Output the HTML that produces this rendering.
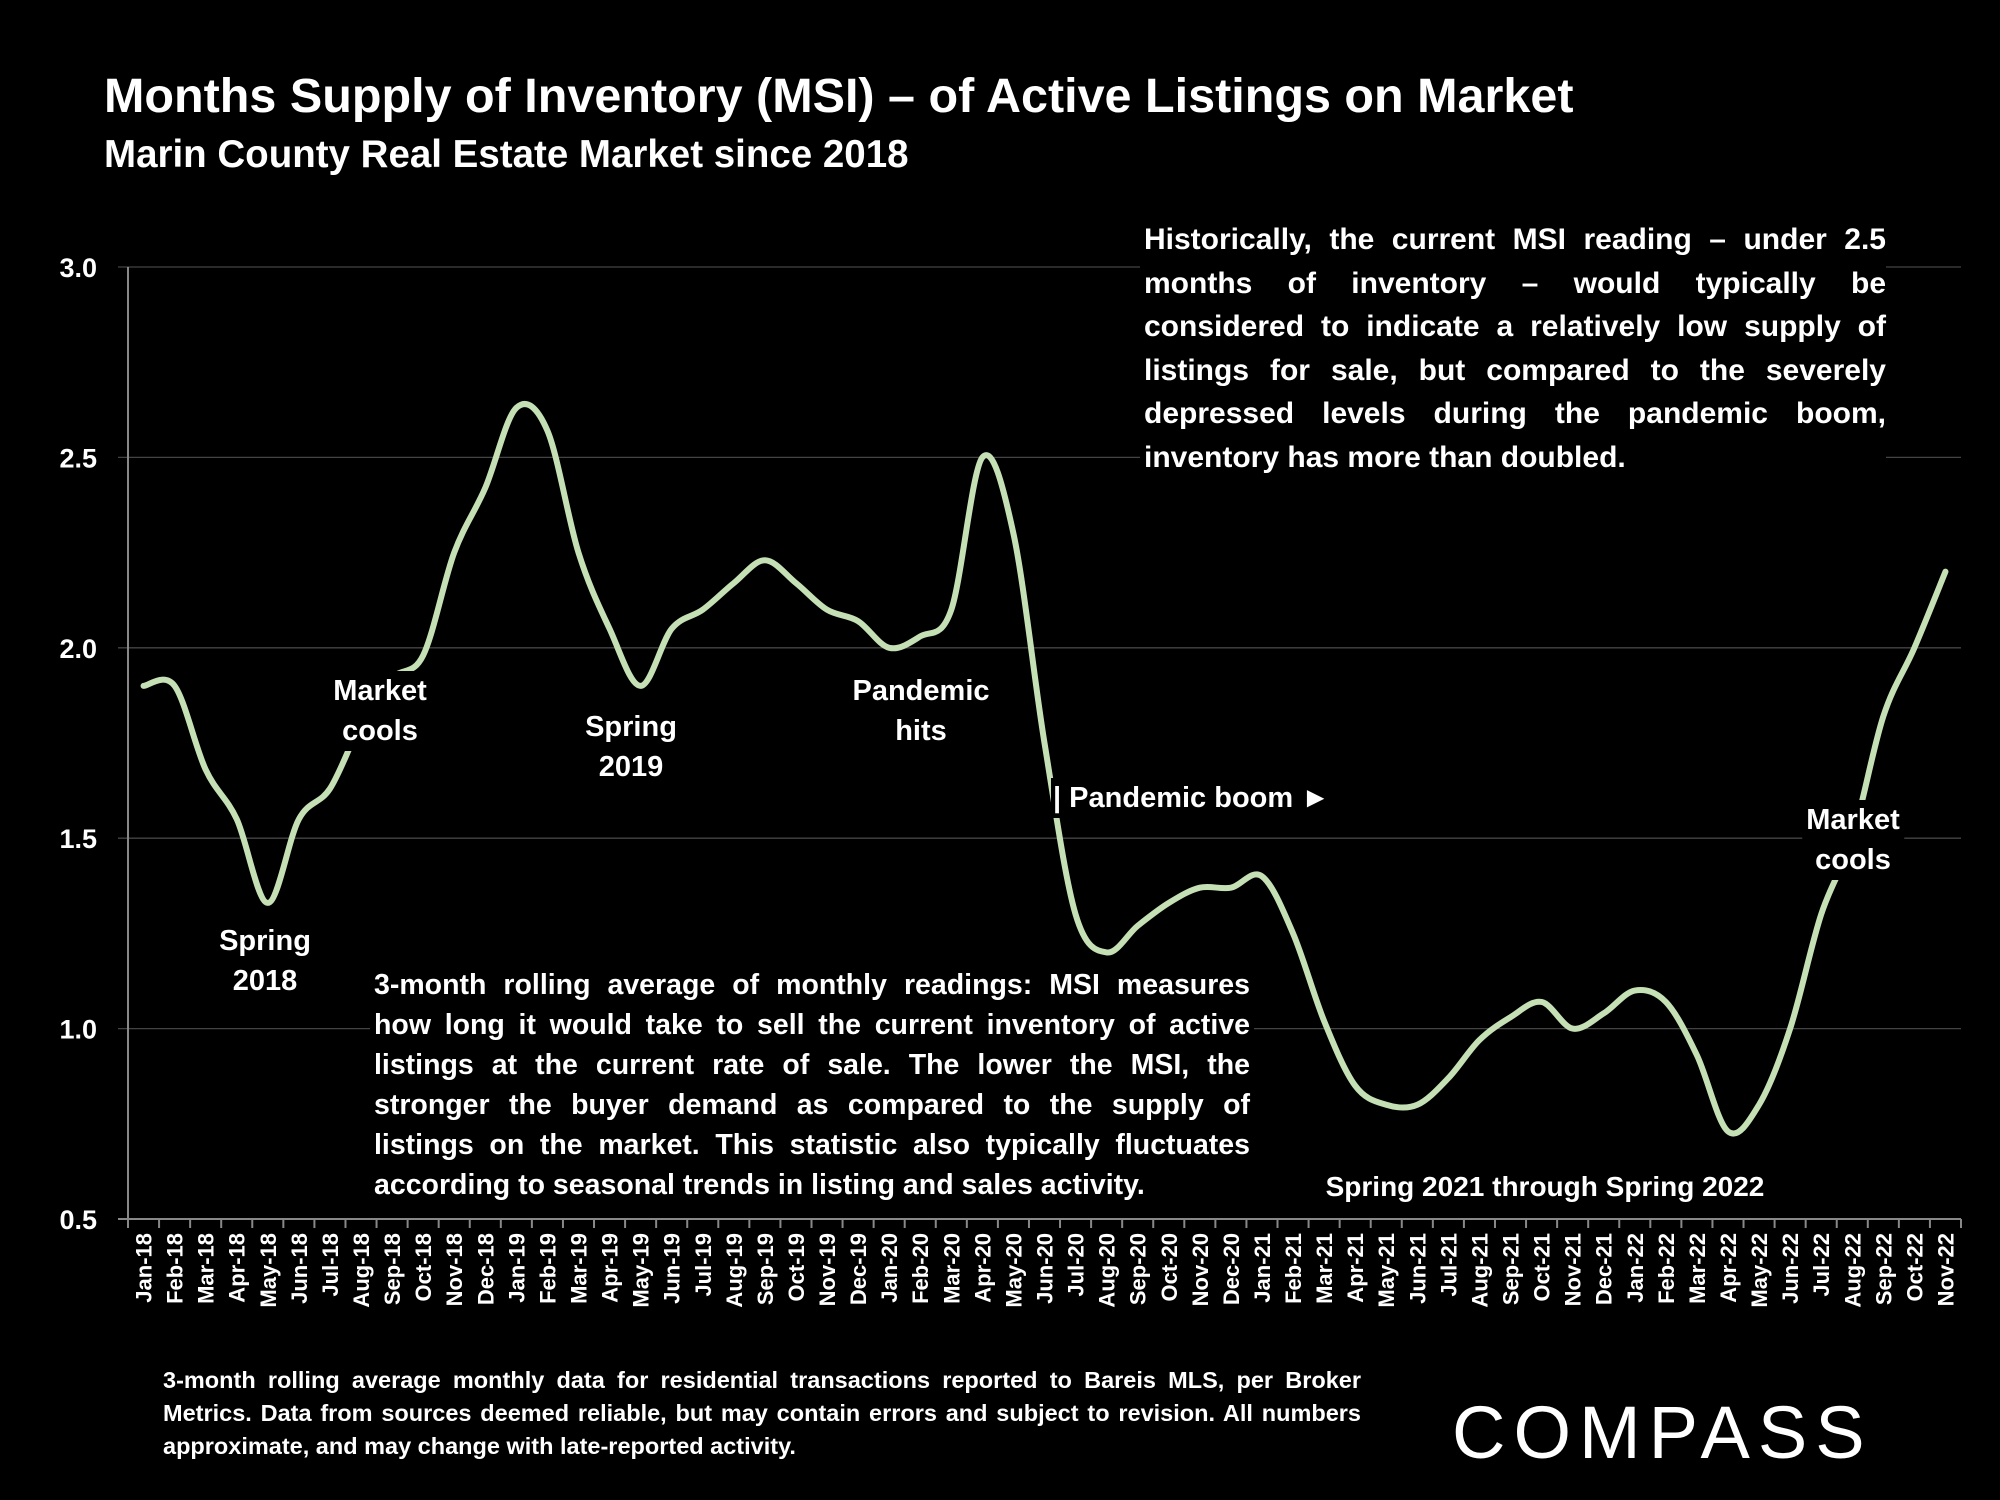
<!DOCTYPE html>
<html><head><meta charset="utf-8"><style>
html,body{margin:0;padding:0;background:#000;}
body{width:2000px;height:1500px;overflow:hidden;position:relative;font-family:"Liberation Sans",sans-serif;color:#fff;font-weight:bold;}
.t{position:absolute;white-space:nowrap;}
.ann{position:absolute;text-align:center;font-size:29px;line-height:40px;background:#000;padding:0 4px;transform:translateX(-50%);white-space:nowrap;}
.blk{position:absolute;text-align:justify;text-align-last:left;background:#000;}
</style></head><body>
<div class="t" style="left:104px;top:68px;font-size:48.5px;">Months Supply of Inventory (MSI) – of Active Listings on Market</div>
<div class="t" style="left:104px;top:133px;font-size:38.5px;">Marin County Real Estate Market since 2018</div>
<svg id="chart" width="2000" height="1500" style="position:absolute;left:0;top:0;"></svg>
<div class="ann" style="left:265px;top:921px;">Spring<br>2018</div>
<div class="ann" style="left:380px;top:671px;">Market<br>cools</div>
<div class="ann" style="left:631px;top:707px;">Spring<br>2019</div>
<div class="ann" style="left:921px;top:671px;">Pandemic<br>hits</div>
<div class="ann" style="left:1051px;top:778px;transform:none;padding:0 6px 0 2px;">| Pandemic boom ►</div>
<div class="ann" style="left:1853px;top:800px;">Market<br>cools</div>
<div class="ann" style="left:1545px;top:1167px;font-size:28px;">Spring 2021 through Spring 2022</div>
<div class="blk" style="left:1140px;top:218px;width:742px;font-size:30px;line-height:43.5px;padding:0 0 4px 4px;">Historically, the current MSI reading – under 2.5 months of inventory – would typically be considered to indicate a relatively low supply of listings for sale, but compared to the severely depressed levels during the pandemic boom, inventory has more than doubled.</div>
<div class="blk" style="left:370px;top:965px;width:876px;font-size:28.5px;line-height:40px;padding:0 4px 4px 4px;">3-month rolling average of monthly readings: MSI measures how long it would take to sell the current inventory of active listings at the current rate of sale. The lower the MSI, the stronger the buyer demand as compared to the supply of listings on the market. This statistic also typically fluctuates according to seasonal trends in listing and sales activity.</div>
<div class="blk" style="left:163px;top:1364px;width:1198px;font-size:23.5px;line-height:33px;">3-month rolling average monthly data for residential transactions reported to Bareis MLS, per Broker Metrics. Data from sources deemed reliable, but may contain errors and subject to revision. All numbers approximate, and may change with late-reported activity.</div>
<div class="t" style="left:1452px;top:1390px;font-size:74px;font-weight:normal;letter-spacing:8px;">COMPASS</div>
<script>
const categories=["Jan-18","Feb-18","Mar-18","Apr-18","May-18","Jun-18","Jul-18","Aug-18","Sep-18","Oct-18","Nov-18","Dec-18","Jan-19","Feb-19","Mar-19","Apr-19","May-19","Jun-19","Jul-19","Aug-19","Sep-19","Oct-19","Nov-19","Dec-19","Jan-20","Feb-20","Mar-20","Apr-20","May-20","Jun-20","Jul-20","Aug-20","Sep-20","Oct-20","Nov-20","Dec-20","Jan-21","Feb-21","Mar-21","Apr-21","May-21","Jun-21","Jul-21","Aug-21","Sep-21","Oct-21","Nov-21","Dec-21","Jan-22","Feb-22","Mar-22","Apr-22","May-22","Jun-22","Jul-22","Aug-22","Sep-22","Oct-22","Nov-22"];
const msiValues=[1.90,1.90,1.68,1.55,1.33,1.55,1.63,1.80,1.92,1.98,2.25,2.42,2.63,2.57,2.25,2.05,1.90,2.05,2.10,2.17,2.23,2.17,2.10,2.07,2.00,2.03,2.10,2.50,2.30,1.75,1.30,1.20,1.27,1.33,1.37,1.37,1.40,1.25,1.02,0.85,0.80,0.80,0.87,0.97,1.03,1.07,1.00,1.04,1.10,1.07,0.93,0.73,0.80,1.00,1.30,1.50,1.82,2.00,2.20];
const yTicks=[0.5,1.0,1.5,2.0,2.5,3.0];
const svg=document.getElementById('chart');const NS='http://www.w3.org/2000/svg';
const X0=128,X1=1961,Y0=1219,Y1=267,YMIN=0.5,YMAX=3.0;
const bw=(X1-X0)/categories.length;
const xC=i=>X0+bw*(i+0.5);
const y=v=>Y0-(v-YMIN)/(YMAX-YMIN)*(Y0-Y1);
function mk(t,a){const e=document.createElementNS(NS,t);for(const k in a)e.setAttribute(k,a[k]);svg.appendChild(e);return e;}
yTicks.forEach(v=>{
 const g=mk('line',{x1:X0-10,x2:X1,y1:y(v),y2:y(v),stroke:v===YMIN?'#888':'#444','stroke-width':v===YMIN?2:1.3});
 
 
 const t=mk('text',{x:97,y:y(v)+10,'text-anchor':'end','font-size':27,'font-weight':'bold',fill:'#fff','font-family':'Liberation Sans, sans-serif'});
 t.textContent=v.toFixed(1);
 
 
});
const ax=mk('line',{x1:X0,x2:X0,y1:Y1,y2:Y0,stroke:'#888','stroke-width':2});


for(let i=0;i<=categories.length;i++){
 const tk=mk('line',{x1:X0+bw*i,x2:X0+bw*i,y1:Y0,y2:Y0+9,stroke:'#888','stroke-width':2});
 
 
}
categories.forEach((c,i)=>{
 const t=mk('text',{x:0,y:0,'text-anchor':'end','font-size':22,'font-weight':'bold',fill:'#fff','font-family':'Liberation Sans, sans-serif',transform:`translate(${xC(i)+8},${Y0+14}) rotate(-90)`});
 t.textContent=c;
 
 
});
const pts=msiValues.map((v,i)=>[xC(i),y(v)]);
let d=`M${pts[0][0]},${pts[0][1]}`;
for(let i=0;i<pts.length-1;i++){
 const p0=pts[Math.max(0,i-1)],p1=pts[i],p2=pts[i+1],p3=pts[Math.min(pts.length-1,i+2)];
 const k=1/6;
 d+=` C${p1[0]+(p2[0]-p0[0])*k},${p1[1]+(p2[1]-p0[1])*k} ${p2[0]-(p3[0]-p1[0])*k},${p2[1]-(p3[1]-p1[1])*k} ${p2[0]},${p2[1]}`;
}
const ln=mk('path',{d:d,fill:'none',stroke:'#c5e0b4','stroke-width':6,'stroke-linecap':'round','stroke-linejoin':'round'});


</script>
</body></html>
